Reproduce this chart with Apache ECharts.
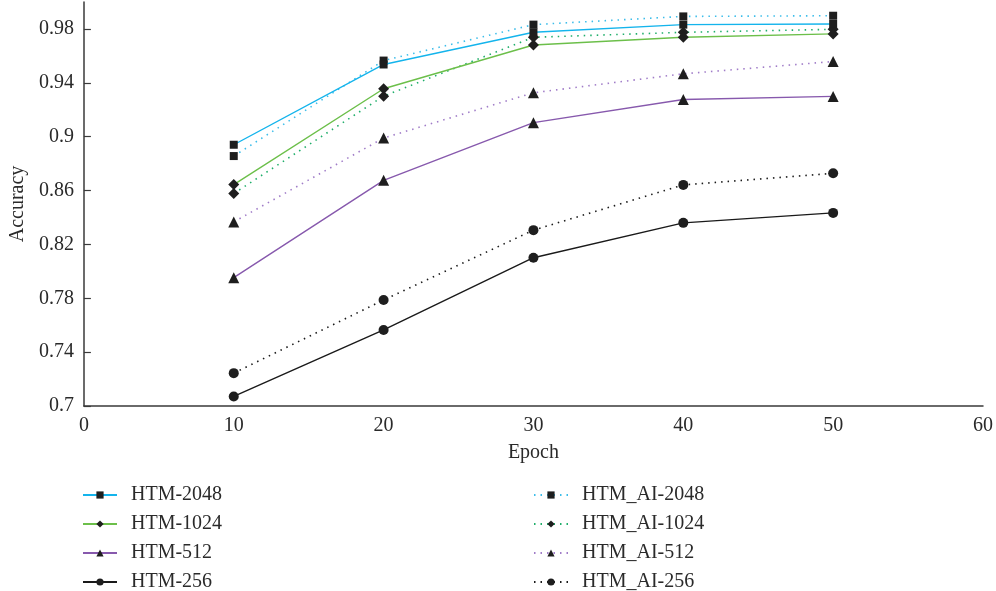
<!DOCTYPE html>
<html>
<head>
<meta charset="utf-8">
<script src="https://cdn.jsdelivr.net/npm/echarts@6/dist/echarts.min.js"></script>
<style>
  html, body { margin: 0; padding: 0; background: #fff; }
  #chart { width: 996px; height: 591px; }
</style>
</head>
<body>
<div id="chart"></div>
<script>
// Training epochs on the x axis
const epochs = [10, 20, 30, 40, 50];

// Accuracy per epoch for the baseline HTM models
const htm2048 = [0.894, 0.9536, 0.9775, 0.9832, 0.9837];
const htm1024 = [0.8644, 0.9356, 0.9681, 0.9738, 0.9763];
const htm512  = [0.7953, 0.8676, 0.9104, 0.9276, 0.9299];
const htm256  = [0.7071, 0.7565, 0.8101, 0.836, 0.8434];

// Accuracy per epoch for the HTM_AI models
const htmAi2048 = [0.8856, 0.9565, 0.9832, 0.9893, 0.9898];
const htmAi1024 = [0.8578, 0.9301, 0.9738, 0.9775, 0.9797];
const htmAi512  = [0.8367, 0.899, 0.9326, 0.9467, 0.9558];
const htmAi256  = [0.7244, 0.7787, 0.8306, 0.8642, 0.8728];

// Axis tick values
const yTicks = [0.7, 0.74, 0.78, 0.82, 0.86, 0.9, 0.94, 0.98];
const xTicks = [0, 10, 20, 30, 40, 50, 60];

const FONT = 'Liberation Serif';
const TEXT = '#2a2a2a';
const MARK = '#1e1e1e';

const pairs = (vals) => epochs.map((e, i) => [e, vals[i]]);

function makeSeries(name, vals, color, symbol, size, dotted) {
  return {
    name: name,
    type: 'line',
    data: pairs(vals),
    symbol: symbol,
    symbolSize: size,
    showSymbol: true,
    itemStyle: { color: MARK, borderWidth: 0 },
    lineStyle: dotted
      ? { color: color, width: 1.6, type: [1.5, 5] }
      : { color: color, width: 1.4, type: 'solid' },
    emphasis: { disabled: true },
    z: dotted ? 2 : 3
  };
}

const series = [
  makeSeries('HTM-2048', htm2048, '#14b4ec', 'rect', 8, false),
  makeSeries('HTM-1024', htm1024, '#6cbf4a', 'diamond', 11, false),
  makeSeries('HTM-512', htm512, '#8759ad', 'triangle', 11, false),
  makeSeries('HTM-256', htm256, '#1a1a1a', 'circle', 10, false),
  makeSeries('HTM_AI-2048', htmAi2048, '#3cbdea', 'rect', 8, true),
  makeSeries('HTM_AI-1024', htmAi1024, '#1fae6a', 'diamond', 11, true),
  makeSeries('HTM_AI-512', htmAi512, '#a07cc8', 'triangle', 11, true),
  makeSeries('HTM_AI-256', htmAi256, '#1a1a1a', 'circle', 10, true)
];

function legendBlock(names, left) {
  return {
    data: names,
    orient: 'vertical',
    left: left,
    top: 480,
    height: 120,
    width: 300,
    itemGap: 9,
    itemWidth: 34,
    itemHeight: 9,
    textStyle: { fontFamily: FONT, fontSize: 20, color: TEXT, padding: [0, 0, 0, 9] },
    selectedMode: false
  };
}

const chart = echarts.init(document.getElementById('chart'), null, { renderer: 'canvas' });

chart.setOption({
  animation: false,
  backgroundColor: '#ffffff',
  grid: { left: 82, right: 11, top: 2, bottom: 185, containLabel: false },
  legend: [
    legendBlock(['HTM-2048', 'HTM-1024', 'HTM-512', 'HTM-256'], 77),
    legendBlock(['HTM_AI-2048', 'HTM_AI-1024', 'HTM_AI-512', 'HTM_AI-256'], 528)
  ],
  xAxis: {
    type: 'value',
    min: 0,
    max: 60,
    interval: 10,
    name: 'Epoch',
    nameLocation: 'middle',
    nameGap: 37,
    nameTextStyle: { fontFamily: FONT, fontSize: 20, color: TEXT },
    axisLine: { show: true, lineStyle: { color: '#3a3a3a', width: 1.5 } },
    axisTick: { show: false },
    splitLine: { show: false },
    axisLabel: {
      fontFamily: FONT, fontSize: 20, color: TEXT, margin: 10,
      customValues: xTicks
    }
  },
  yAxis: {
    type: 'value',
    min: 0.7,
    max: 1.0,
    name: 'Accuracy',
    nameLocation: 'middle',
    nameGap: 54,
    nameRotate: 90,
    nameTextStyle: { fontFamily: FONT, fontSize: 20, color: TEXT },
    axisLine: { show: true, lineStyle: { color: '#3a3a3a', width: 1.5 } },
    axisTick: {
      show: true, inside: true, length: 7,
      lineStyle: { color: '#3a3a3a', width: 1.2 },
      customValues: yTicks
    },
    splitLine: { show: false },
    axisLabel: {
      fontFamily: FONT, fontSize: 20, color: TEXT, margin: 10,
      customValues: yTicks,
      formatter: (v) => String(parseFloat(v.toFixed(2)))
    }
  },
  series: series
});
</script>
</body>
</html>
